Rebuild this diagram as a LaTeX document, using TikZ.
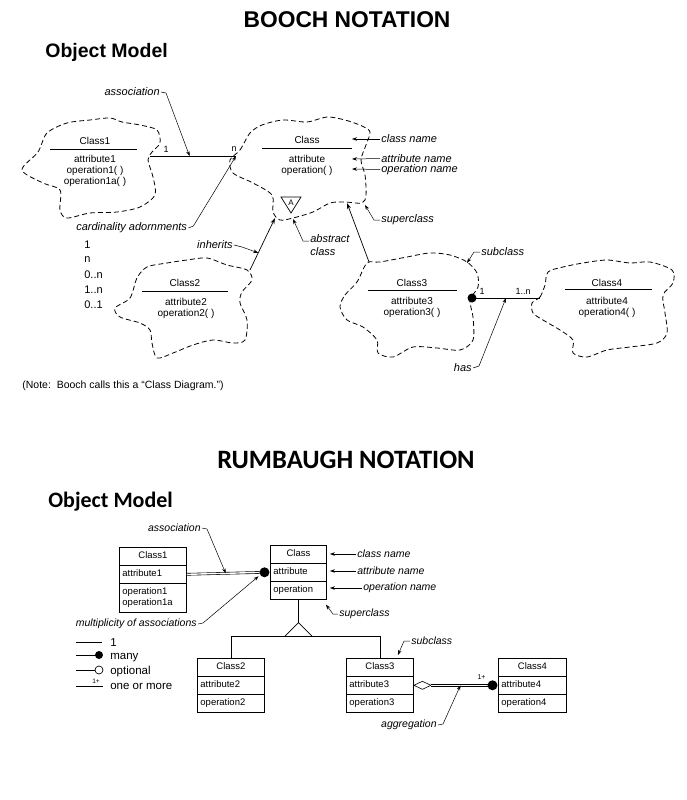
\documentclass[tikz,border=0pt]{standalone}
\usepackage{fontspec}
\setmainfont{Liberation Sans}
\newfontfamily\calfont{Carlito}
\usetikzlibrary{arrows.meta,shapes.multipart,calc}

\begin{document}
\begin{tikzpicture}[x=1pt,y=-1pt,line width=0.7pt,
  cloud/.style={dash pattern=on 5pt off 3pt,line width=0.8pt},
  lbl/.style={font=\fontsize{11}{13}\selectfont\itshape,inner sep=1pt},
  rlbl/.style={font=\fontsize{10.5}{12}\selectfont\itshape,inner sep=1pt},
  txt/.style={font=\fontsize{10}{11}\selectfont,align=center,inner sep=0pt},
  small/.style={font=\fontsize{9}{10}\selectfont,inner sep=0pt},
  leg/.style={font=\fontsize{11.5}{13}\selectfont,inner sep=0pt,anchor=base west},
  ptr/.style={-{Stealth[length=5pt,width=3.5pt]},line width=0.5pt},
  arr/.style={-{Stealth[length=6pt,width=4pt]},line width=0.7pt},
  dbl/.style={double,double distance=1.4pt,line width=0.6pt},
  rbox/.style={draw,rectangle split,rectangle split parts=3,line width=0.9pt,
    font=\fontsize{9.5}{11}\selectfont,inner xsep=3pt,inner ysep=3pt,
    rectangle split part align={center,left,left},anchor=north west}]

\useasboundingbox (0,0) rectangle (687,800);

% ---- Booch
\node[font=\fontsize{22.8}{24}\selectfont\bfseries] (btitle) at (347,20) {BOOCH NOTATION};
\node[font=\fontsize{19.5}{21}\selectfont\bfseries,anchor=base west,inner sep=0pt] (bmodel) at (45,57) {Object Model};

% clouds
\draw[cloud] plot[smooth cycle] coordinates {(22,170) (38,152) (47,133) (67,123) (90,120) (110,118) (122,122) (140,125) (157,130) (160,143) (152,152) (148,160) (153,177) (155,195) (140,207) (117,212) (90,213) (67,218) (60,210) (60,190) (43,183)};
\draw[cloud] plot[smooth cycle] coordinates {(230,160) (240,150) (250,133) (262,125) (283,120) (307,122) (327,117) (345,120) (362,126) (370,132) (366,145) (361,160) (365,175) (366,195) (362,203) (345,202) (330,203) (313,212) (293,218) (280,220) (273,212) (272,195) (253,183) (233,173)};
\draw[cloud] plot[smooth cycle] coordinates {(115,308) (130,298) (137,278) (147,267) (167,263) (187,260) (207,258) (227,265) (247,270) (252,280) (242,292) (240,303) (247,320) (245,340) (233,343) (213,340) (193,345) (173,353) (157,358) (152,343) (150,330) (140,323) (120,317)};
\draw[cloud] plot[smooth cycle] coordinates {(340,307) (345,295) (357,282) (367,263) (380,262) (407,257) (430,253) (450,255) (467,262) (477,273) (478,287) (470,300) (473,317) (473,340) (460,350) (437,348) (413,347) (393,357) (378,353) (377,340) (363,327) (347,320)};
\draw[cloud] plot[smooth cycle] coordinates {(532,303) (540,297) (545,285) (548,272) (563,267) (583,263) (607,260) (630,263) (650,262) (672,270) (673,283) (663,295) (665,313) (667,333) (657,343) (630,347) (607,350) (587,357) (573,353) (573,340) (560,330) (543,320) (533,313)};

% class texts
\node[txt] (c1name) at (95,141) {Class1};
\draw (50,149) -- (137,149);
\node[txt] (c1body) at (95,171) {attribute1\\operation1( )\\operation1a( )};
\node[txt] (cname) at (307,140) {Class};
\draw (262,148) -- (352,148);
\node[txt] (cbody) at (307,165) {attribute\\operation( )};
\node[txt] (c2name) at (185,283) {Class2};
\draw (142,291) -- (228,291);
\node[txt] (c2body) at (186,308.5) {attribute2\\operation2( )};
\node[txt] (c3name) at (412,283) {Class3};
\draw (368,290) -- (457,290);
\node[txt] (c3body) at (412,307) {attribute3\\operation3( )};
\node[txt] (c4name) at (607,283) {Class4};
\draw (565,289) -- (652,289);
\node[txt] (c4body) at (607,307) {attribute4\\operation4( )};

% abstract adornment
\draw (281,197) -- (301,197) -- (291,213) -- cycle;
\node[txt,font=\fontsize{8}{8}\selectfont] (absA) at (291,202.5) {A};

% association
\coordinate (c1e) at (150,156);
\coordinate (cw) at (236,156);
\draw (c1e) -- (cw);
\node[small] (m1) at (166,149) {1};
\node[small] (mn) at (234,149) {n};
\path (c1e) -- (cw) coordinate[pos=0.46] (assocpt);
\node[lbl,anchor=east] (assoc) at (161,92) {association};
\draw[ptr] (assoc.east) -- ++(5,1) -- (assocpt);

\node[lbl,anchor=west] (card) at (75,228) {cardinality adornments};
\draw[ptr] (card.east) -- ++(5,-2) -- (cw);
\node[txt,font=\fontsize{11}{12}\selectfont,anchor=west] (k1) at (84,245) {1};
\node[txt,font=\fontsize{11}{12}\selectfont,anchor=west] (k2) at (84,260) {n};
\node[txt,font=\fontsize{11}{12}\selectfont,anchor=west] (k3) at (84,275) {0..n};
\node[txt,font=\fontsize{11}{12}\selectfont,anchor=west] (k4) at (84,290) {1..n};
\node[txt,font=\fontsize{11}{12}\selectfont,anchor=west] (k5) at (84,305) {0..1};

% inheritance
\coordinate (c2top) at (250,270);
\coordinate (cbot1) at (275,218);
\draw[arr] (c2top) -- (cbot1);
\path (c2top) -- (cbot1) coordinate[pos=0.33] (inhpt);
\node[lbl,anchor=east] (inh) at (234,245) {inherits};
\draw[ptr] (inh.east) -- ++(8,2) -- (inhpt);
\coordinate (c3top) at (369,262);
\coordinate (cbot2) at (347,203);
\draw[arr] (c3top) -- (cbot2);

% right side labels
\coordinate (cnpt) at (352,139);
\coordinate (canpt) at (352,159);
\coordinate (conpt) at (352,169);
\node[lbl,anchor=west] (lcn) at (380,139) {class name};
\node[lbl,anchor=west] (lan) at (380,158.5) {attribute name};
\node[lbl,anchor=west] (lon) at (380,169.5) {operation name};
\draw[ptr] (lcn.west) -- (cnpt);
\draw[ptr] (lan.west) -- (canpt);
\draw[ptr] (lon.west) -- (conpt);

\coordinate (supdot) at (365,205);
\node[lbl,anchor=west] (supl) at (380,220) {superclass};
\draw[ptr] (supl.west) -- ++(-6,0) -- (supdot);
\coordinate (absdot) at (293,219);
\node[lbl,align=left,anchor=north west] (abscls) at (309,233) {abstract\\class};
\draw[ptr] ($(abscls.north west)+(0,8)$) -- ++(-6,0) -- (absdot);
\coordinate (subpt) at (467,263);
\node[lbl,anchor=west] (subl) at (480,252) {subclass};
\draw[ptr] (subl.west) -- ++(-6,0) -- (subpt);

% has
\coordinate (c3e) at (472,298);
\coordinate (c4w) at (540,298);
\draw (c3e) -- (c4w);
\fill (c3e) circle (4.5);
\node[small] (h1) at (482,291) {1};
\node[small] (hn) at (523,291) {1..n};
\path (c3e) -- (c4w) coordinate[pos=0.5] (haspt);
\node[lbl,anchor=east] (hasl) at (473,368) {has};
\draw[ptr] (hasl.east) -- ++(6,-2) -- (haspt);

\node[anchor=west,inner sep=0pt,font=\fontsize{10.5}{12}\selectfont] (note) at (22,386) {(Note:\ \ Booch calls this a “Class Diagram.”)};

% ---- Rumbaugh
\node[font=\fontsize{26.5}{28}\selectfont\calfont\bfseries,anchor=base] (rtitle) at (346,468) {RUMBAUGH NOTATION};
\node[font=\fontsize{22}{24}\selectfont\calfont\bfseries,anchor=base west,inner sep=0pt] (rmodel) at (48,507) {Object Model};

\node[rbox,minimum width=67pt] (r1) at (119,547) {\strut Class1\nodepart{two}\strut attribute1\nodepart{three}\begin{tabular}{@{}l@{}}operation1\\operation1a\end{tabular}};
\node[rbox,minimum width=56pt] (rc) at (270,545) {\strut Class\nodepart{two}\strut attribute\nodepart{three}\strut operation};
\node[rbox,minimum width=67pt] (r2) at (197,658) {\strut Class2\nodepart{two}\strut attribute2\nodepart{three}\strut operation2};
\node[rbox,minimum width=67pt] (r3) at (346,658) {\strut Class3\nodepart{two}\strut attribute3\nodepart{three}\strut operation3};
\node[rbox,minimum width=68pt] (r4) at (498,658) {\strut Class4\nodepart{two}\strut attribute4\nodepart{three}\strut operation4};

% association
\coordinate (r1a) at ($(r1.one split east)!0.5!(r1.two split east)$);
\coordinate (rca) at ($(rc.one split west)!0.5!(rc.two split west)$);
\coordinate (rcdot) at ($(rca)+(-5.5,0)$);
\draw[dbl] (r1a) -- (rcdot);
\fill (rcdot) circle (5);
\path (r1a) -- (rcdot) coordinate[pos=0.5] (rassocpt);
\node[rlbl,anchor=east] (rassoc) at (202,528) {association};
\draw[ptr] (rassoc.east) -- ++(5,1) -- (rassocpt);
\coordinate (multpt) at ($(rcdot)+(-6,4)$);
\node[rlbl,anchor=east] (mult) at (198,624) {multiplicity of associations};
\draw[ptr] (mult.east) -- ++(5,-1) -- (multpt);

% pointers to Class
\node[rlbl,anchor=west] (rcn) at (356,554) {class name};
\node[rlbl,anchor=west] (ran) at (356,571) {attribute name};
\node[rlbl,anchor=west] (ron) at (362,588) {operation name};
\draw[ptr] (rcn.west) -- ($(rcn.west -| rc.east)+(3,0)$);
\draw[ptr] (ran.west) -- ($(ran.west -| rc.east)+(3,0)$);
\draw[ptr] (ron.west) -- ($(ron.west -| rc.east)+(3,0)$);

% generalization
\coordinate (rtri) at ($(rc.south)+(0,23)$);
\coordinate (rbar) at ($(rtri)+(0,14)$);
\draw (rc.south) -- (rtri);
\draw (rtri) -- ++(-14,14) -- ++(28,0) -- cycle;
\draw (r2.north) |- (rbar) -| (r3.north);
\coordinate (rsuppt) at ($(rc.south east)+(-1,5)$);
\node[rlbl,anchor=west] (rsup) at (338,614) {superclass};
\draw[ptr] (rsup.west) -- ++(-5,0) -- (rsuppt);
\coordinate (rsubpt) at ($(r3.north east)+(-16,-3)$);
\node[rlbl,anchor=west] (rsub) at (410,641) {subclass};
\draw[ptr] (rsub.west) -- ++(-6,0) -- (rsubpt);

% aggregation
\coordinate (r3a) at ($(r3.one split east)!0.5!(r3.two split east)$);
\coordinate (r3d) at ($(r3a)+(17,0)$);
\coordinate (r4a) at ($(r4.one split west)!0.5!(r4.two split west)$);
\coordinate (r4dot) at ($(r4a)+(-5.5,0)$);
\draw[line width=0.6pt] (r3a) -- ++(8.5,-4) -- (r3d) -- ++(-8.5,4) -- cycle;
\draw[dbl] (r3d) -- (r4dot);
\fill (r4dot) circle (5);
\node[font=\fontsize{7}{8}\selectfont,inner sep=0pt] (onep) at ($(r4dot)+(-11,-8)$) {1+};
\path (r3d) -- (r4dot) coordinate[pos=0.48] (raggpt);
\node[rlbl,anchor=east] (ragg) at (438,725) {aggregation};
\draw[ptr] (ragg.east) -- ++(5,-1) -- (raggpt);

% legend
\coordinate (lga) at (76,642);
\draw (lga) -- ++(26,0);
\node[leg] (lg1) at (110,646) {1};
\coordinate (lgb) at (76,655);
\draw (lgb) -- ++(23,0) coordinate (lgbd);
\fill (lgbd) circle (4);
\node[leg] (lg2) at (110,659) {many};
\coordinate (lgc) at (76,670);
\draw (lgc) -- ++(19,0) coordinate (lgcd);
\draw ($(lgcd)+(4,0)$) circle (4);
\node[leg] (lg3) at (110,674) {optional};
\coordinate (lgd) at (76,686);
\draw (lgd) -- ++(27,0);
\node[font=\fontsize{6.5}{7}\selectfont,inner sep=0pt] (lgdp) at (96,681) {1+};
\node[leg] (lg4) at (110,689) {one or more};
\end{tikzpicture}
\end{document}
